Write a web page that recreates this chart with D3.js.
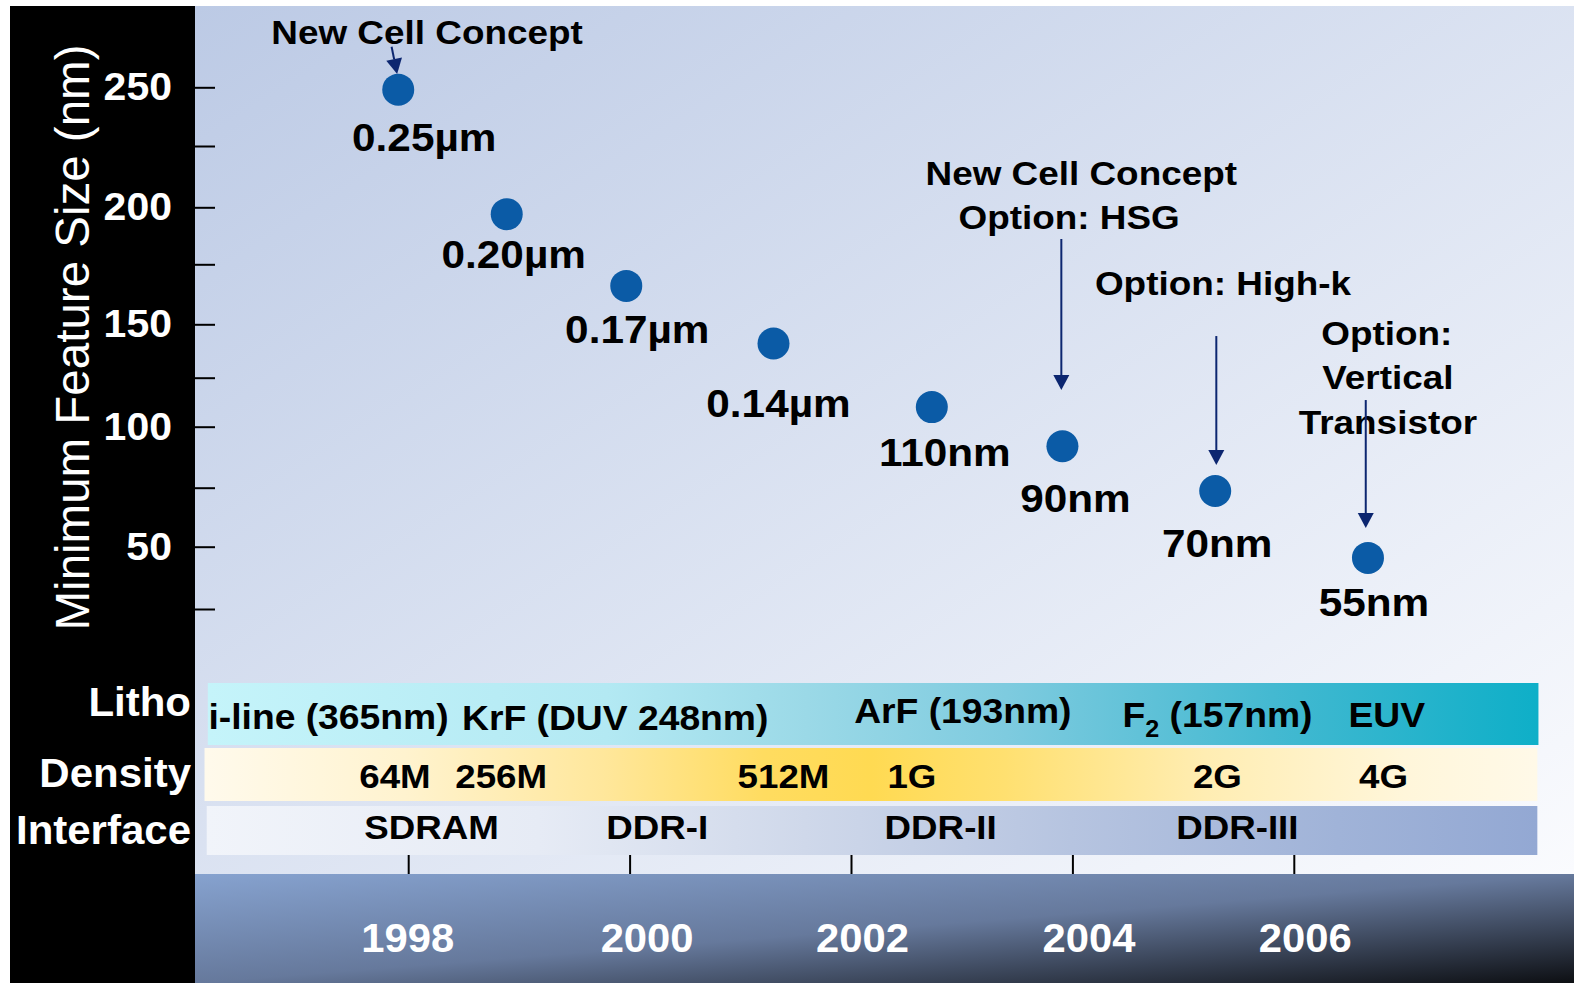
<!DOCTYPE html>
<html><head><meta charset="utf-8">
<script src="https://cdn.jsdelivr.net/npm/d3@7"></script>
<style>
body{margin:0;background:#fff;}
svg{display:block;}
text{font-family:"Liberation Sans",Arial,Helvetica,sans-serif;}
</style>
</head><body>
<svg id="chart" width="1574" height="983"></svg>
<script>
// ---------------- DATA ----------------
const nodeYears   = [1997.91, 1998.89, 1999.97, 2001.30, 2002.73, 2003.91, 2005.29, 2006.67];
const featureSize = [249, 197, 166, 141, 110, 92, 73.6, 45.5];
const nodeLabels  = ["0.25µm", "0.20µm", "0.17µm", "0.14µm", "110nm", "90nm", "70nm", "55nm"];

const yTicks      = [25, 50, 75, 100, 125, 150, 175, 200, 225, 250];
const yTickLabels = [50, 100, 150, 200, 250];
const xTicks      = [1998, 2000, 2002, 2004, 2006];
const xTickLabels = ["1998", "2000", "2002", "2004", "2006"];
const yTitle      = "Minimum Feature Size (nm)";

const rowNames        = ["Litho", "Density", "Interface"];
const lithoLabels     = ["i-line (365nm)", "KrF (DUV 248nm)", "ArF (193nm)", "F2 (157nm)", "EUV"];
const lithoYears      = [1997.28, 1999.87, 2003.01, 2005.31, 2006.84];
const densityLabels   = ["64M", "256M", "512M", "1G", "2G", "4G"];
const densityYears    = [1997.88, 1998.84, 2001.39, 2002.55, 2005.31, 2006.81];
const interfaceLabels = ["SDRAM", "DDR-I", "DDR-II", "DDR-III"];
const interfaceYears  = [1998.21, 2000.25, 2002.81, 2005.49];

const noteLines  = ["New Cell Concept", "New Cell Concept", "Option: HSG", "Option: High-k", "Option:", "Vertical", "Transistor"];
const noteYears  = [1998.17, 2004.08, 2003.97, 2005.36, 2006.84, 2006.85, 2006.85];
const noteValues = [268.4, 209.1, 190.5, 162.2, 140.3, 119.2, 97.0];
const arrowFrom  = [[1997.85, 267.3], [2003.90, 186.1], [2005.30, 144.5], [2006.65, 113.6]];
const arrowTo    = [[1997.90, 255.7], [2003.90, 118.7], [2005.30, 84.3], [2006.65, 57.9]];

// ---------------- LAYOUT ----------------
const W = 1574, H = 983;
const panel = {x0: 10, x1: 195, y0: 6};
const plot = {x0: 195, x1: 1574, y0: 6, y1: 874};
const rows = [
  {y0: 683, y1: 745, from: 1996.19, to: 2008.21, grad: "gLitho", base: 716},
  {y0: 748, y1: 801, from: 1996.16, to: 2008.20, grad: "gDensity", base: 787},
  {y0: 806, y1: 855, from: 1996.18, to: 2008.20, grad: "gIface", base: 844}
];
const lithoBase = [729, 730, 723, 727, 727];
const densityBase = 788, ifaceBase = 839;
const labelOffsets = [[26,61],[7,54],[11,57],[5,73],[13,59],[13,66],[2,66],[6,58]];
const yearLabelDx = [-1, 17, 11, 16, 11];
const ink = "#000", navy = "#0c2670", dot = "#0b5ba6";
const BOLD_SX = 1.085;

const svg = d3.select("#chart");
const x = d3.scaleLinear().domain([1998, 2006]).range([408.2, 1293.8]);
// the reference axis is hand-drawn: tick spacing is uneven, so the scale follows it piecewise
const y = d3.scaleLinear()
  .domain([0, 25, 50, 75, 100, 125, 150, 175, 200, 225, 250, 275])
  .range([669, 609, 546.7, 487.7, 426.7, 377.7, 324.3, 264.3, 207.3, 146, 87.3, 28.6]);

// gradients
const defs = svg.append("defs");
function grad(id, stops, x2, y2) {
  const g = defs.append("linearGradient").attr("id", id)
    .attr("x1", 0).attr("y1", 0).attr("x2", x2).attr("y2", y2);
  stops.forEach(s => g.append("stop").attr("offset", s[0]).attr("stop-color", s[1]));
}
grad("gPlot", [[0, "#bccae5"], [1, "#fafbfe"]], 1, 1);
grad("gBand", [[0, "#86a2cf"], [0.5, "#66799c"], [1, "#0d0f13"]], 1, 1);
grad("gLitho", [[0, "#c5f4fa"], [0.3, "#b3e9f3"], [0.45, "#9bd9e7"], [0.6, "#7ecbdf"], [0.8, "#44b9d1"], [1, "#0eafc8"]], 1, 0);
grad("gDensity", [[0, "#fffaec"], [0.15, "#fff3cf"], [0.3, "#ffe79b"], [0.42, "#ffdc60"], [0.5, "#ffda52"], [0.6, "#ffe070"], [0.75, "#ffedb2"], [0.9, "#fff6da"], [1, "#fff9e8"]], 1, 0);
grad("gIface", [[0, "#f1f4fa"], [0.25, "#e6ebf5"], [0.45, "#cfd8ea"], [0.65, "#b6c4e0"], [0.85, "#a0b3d8"], [1, "#93a8d3"]], 1, 0);

// backgrounds
svg.append("rect").attr("width", W).attr("height", H).attr("fill", "#fff");
svg.append("rect").attr("x", panel.x0).attr("y", panel.y0).attr("width", panel.x1 - panel.x0).attr("height", H - panel.y0).attr("fill", "#000");
svg.append("rect").attr("x", plot.x0).attr("y", plot.y0).attr("width", plot.x1 - plot.x0).attr("height", plot.y1 - plot.y0).attr("fill", "url(#gPlot)");
svg.append("rect").attr("x", plot.x0).attr("y", plot.y1).attr("width", plot.x1 - plot.x0).attr("height", H - plot.y1).attr("fill", "url(#gBand)");

// text helper
function label(g, str, px, py, size, sx, anchor, fill, weight) {
  return g.append("text")
    .attr("transform", `translate(${px},${py}) scale(${sx},1)`)
    .attr("text-anchor", anchor)
    .style("font-size", size + "px")
    .style("font-weight", weight || "bold")
    .attr("fill", fill)
    .text(str);
}

// rows
const gRows = svg.append("g");
rows.forEach((r, i) => {
  gRows.append("rect").attr("x", x(r.from)).attr("y", r.y0)
    .attr("width", x(r.to) - x(r.from)).attr("height", r.y1 - r.y0)
    .attr("fill", `url(#${r.grad})`);
  label(gRows, rowNames[i], 191, r.base, 40, 1.05, "end", "#fff");
});

lithoLabels.forEach((s, i) => {
  const px = x(lithoYears[i]), py = lithoBase[i];
  if (/^F2/.test(s)) {
    const t = gRows.append("text")
      .attr("transform", `translate(${px},${py}) scale(1.05,1)`)
      .attr("text-anchor", "middle").style("font-size", "35.5px").style("font-weight", "bold").attr("fill", ink);
    t.append("tspan").text("F");
    t.append("tspan").attr("dy", 10).style("font-size", "24px").text("2");
    t.append("tspan").attr("dy", -10).text(s.slice(2));
  } else {
    label(gRows, s, px, py, 35.5, 1.05, "middle", ink);
  }
});
densityLabels.forEach((s, i) => label(gRows, s, x(densityYears[i]), densityBase, 34, 1.08, "middle", ink));
interfaceLabels.forEach((s, i) => label(gRows, s, x(interfaceYears[i]), ifaceBase, 34, 1.08, "middle", ink));

// y axis
const yAxis = d3.axisLeft(y).tickValues(yTicks).tickSizeInner(-20).tickSizeOuter(0).tickPadding(22)
  .tickFormat(d => yTickLabels.includes(d) ? String(d) : "");
const gy = svg.append("g").attr("transform", `translate(${plot.x0},0)`).call(yAxis)
  .attr("font-size", null).attr("font-family", null);
gy.select(".domain").remove();
gy.selectAll(".tick line").attr("stroke", ink).attr("stroke-width", 2);
gy.selectAll(".tick text").attr("fill", "#fff").style("font-size", "39px").style("font-weight", "bold")
  .attr("transform", "scale(1.05,1)");

svg.append("text")
  .attr("transform", `translate(89,337.5) rotate(-90)`)
  .attr("text-anchor", "middle").style("font-size", "47.5px").style("font-weight", "normal")
  .attr("fill", "#fff").text(yTitle);

// x axis
const xAxis = d3.axisBottom(x).tickValues(xTicks).tickSizeInner(19).tickSizeOuter(0).tickPadding(50)
  .tickFormat((d, i) => xTickLabels[i]);
const gx = svg.append("g").attr("transform", "translate(0,855)").call(xAxis)
  .attr("font-size", null).attr("font-family", null);
gx.select(".domain").remove();
gx.selectAll(".tick line").attr("stroke", ink).attr("stroke-width", 2);
gx.selectAll(".tick text").attr("fill", "#fff").style("font-size", "40px").style("font-weight", "bold")
  .attr("transform", (d, i) => `translate(${yearLabelDx[i]},0) scale(1.045,1)`);

// points
const pts = nodeYears.map((yr, i) => ({yr, v: featureSize[i], lab: nodeLabels[i], off: labelOffsets[i]}));
const gPts = svg.append("g");
gPts.selectAll("circle").data(pts).join("circle")
  .attr("cx", d => x(d.yr)).attr("cy", d => y(d.v)).attr("r", 16).attr("fill", dot);
pts.forEach(d => label(gPts, d.lab, x(d.yr) + d.off[0], y(d.v) + d.off[1], 39, BOLD_SX, "middle", ink));

// annotations
const gNotes = svg.append("g");
noteLines.forEach((s, i) => label(gNotes, s, x(noteYears[i]), y(noteValues[i]), 34, BOLD_SX, "middle", ink));

// arrows
const gArr = svg.append("g");
arrowFrom.forEach((f, i) => {
  const x1 = x(f[0]), y1 = y(f[1]), x2 = x(arrowTo[i][0]), y2 = y(arrowTo[i][1]);
  const ang = Math.atan2(y2 - y1, x2 - x1);
  const L = 15, Wd = 8;
  const bx = x2 - L * Math.cos(ang), by = y2 - L * Math.sin(ang);
  gArr.append("line").attr("x1", x1).attr("y1", y1).attr("x2", bx).attr("y2", by)
    .attr("stroke", navy).attr("stroke-width", 2);
  const px = -Math.sin(ang) * Wd, py = Math.cos(ang) * Wd;
  gArr.append("path")
    .attr("d", `M${x2},${y2}L${bx + px},${by + py}L${bx - px},${by - py}Z`)
    .attr("fill", navy);
});
</script>
</body></html>
